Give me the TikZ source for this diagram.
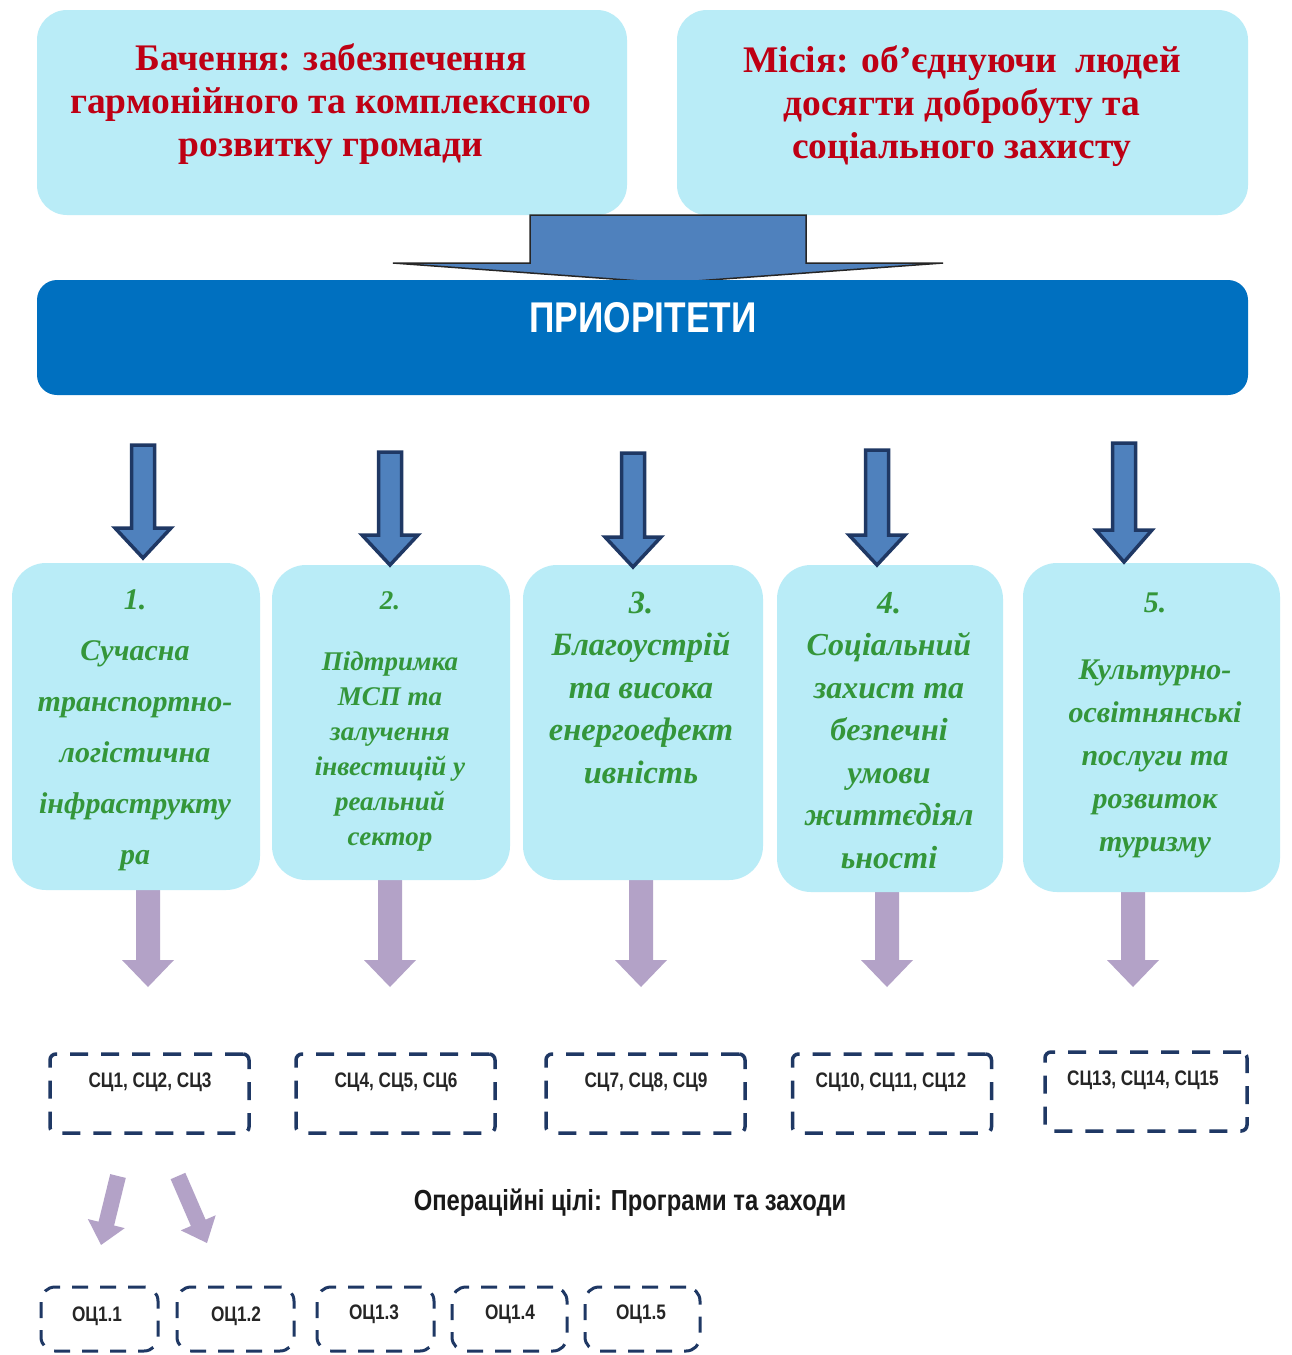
\documentclass[tikz,border=0pt]{standalone}
\usepackage{fontspec}
\setmainfont{Liberation Serif}
\newfontfamily\narrowsans[FakeStretch=0.82]{Liberation Sans}
\definecolor{boxcyan}{RGB}{185,236,247}
\definecolor{titlered}{RGB}{190,0,20}
\definecolor{barblue}{RGB}{0,112,192}
\definecolor{arrfill}{RGB}{79,129,189}
\definecolor{navyline}{RGB}{31,56,100}
\definecolor{lav}{RGB}{179,162,199}
\definecolor{tgreen}{RGB}{52,150,58}
\newcommand\mylines[1]{\begin{tabular}[t]{@{}c@{}}#1\end{tabular}}
\newcommand\blockarr[7]{\draw[#1] (#2-#6,#3) -- (#2+#6,#3) -- (#2+#6,#4) -- (#2+#7,#4) -- (#2,#5) -- (#2-#7,#4) -- (#2-#6,#4) -- cycle;}
\begin{document}
\begin{tikzpicture}[x=1pt,y=-1pt,
  topbox/.style={fill=boxcyan, rounded corners=30pt, draw=none, inner sep=0},
  toptext/.style={anchor=base, text=titlered, font=\bfseries\fontsize{37.5}{43}\selectfont, inner sep=0},
  barbox/.style={fill=barblue, rounded corners=20pt, inner sep=0},
  prbox/.style={fill=boxcyan, rounded corners=34pt, inner sep=0},
  prtext/.style={anchor=base, inner sep=0, text=tgreen, font=\bfseries\itshape\fontsize{30}{51}\selectfont},
  darr/.style={fill=arrfill, draw=navyline, line width=3.5pt, line join=miter},
  larr/.style={fill=lav, draw=none},
  bigarr/.style={fill=arrfill, draw=black!85, line width=1.5pt, line join=miter},
  scbox/.style={draw=navyline, line width=3.5pt, dash pattern=on 18pt off 13pt, rounded corners=6pt, minimum width=199pt, minimum height=79pt, inner sep=0},
  sctext/.style={font=\narrowsans\bfseries\fontsize{21}{24}\selectfont, text=black!85, inner sep=0},
  ocbox/.style={draw=navyline, line width=3pt, dash pattern=on 16pt off 12pt, rounded corners=14pt, minimum width=117pt, minimum height=64pt, inner sep=0},
]
\useasboundingbox (0,0) rectangle (1292,1355);
\fill[white] (0,0) rectangle (1292,1355);

% top boxes
\node[topbox, minimum width=590pt, minimum height=205pt] (vision) at (332,112.5) {};
\node[topbox, minimum width=571pt, minimum height=205pt] (mission) at (962.5,112.5) {};
\node[toptext] (visiontxt) at (331,70) {\mylines{Бачення: забезпечення\\гармонійного та комплексного\\розвитку громади}};
\node[toptext] (missiontxt) at (962,72) {\mylines{Місія: об’єднуючи\ \ людей\\досягти добробуту та\\соціального захисту}};

% big arrow into priorities bar
\draw[bigarr] (530,215) -- (806,215) -- (806,263) -- (943,263) -- (668,283) -- (393,263) -- (530,263) -- cycle;
\node[barbox, minimum width=1211pt, minimum height=115pt] (prio) at (642.5,337.5) {};
\node[text=white, font=\narrowsans\bfseries\fontsize{43}{46}\selectfont, inner sep=0] (priotxt) at (643,318) {ПРИОРІТЕТИ};

% lavender arrows (under boxes)
\blockarr{larr}{148}{880}{960}{987}{12}{26}
\blockarr{larr}{390}{870}{960}{987}{12}{26}
\blockarr{larr}{641}{870}{960}{987}{12}{26}
\blockarr{larr}{887}{880}{960}{987}{12}{26}
\blockarr{larr}{1133}{880}{960}{987}{12}{26}

% priority boxes
\node[prbox, minimum width=248pt, minimum height=327pt] (p1) at (136,726.5) {};
\node[prbox, minimum width=238pt, minimum height=315pt] (p2) at (391,722.5) {};
\node[prbox, minimum width=240pt, minimum height=315pt] (p3) at (643,722.5) {};
\node[prbox, minimum width=226pt, minimum height=327pt] (p4) at (890,728.5) {};
\node[prbox, minimum width=257pt, minimum height=329pt] (p5) at (1151.5,727.5) {};

% dark arrows
\blockarr{darr}{143}{445}{528}{558}{11.5}{28}
\blockarr{darr}{390}{452}{535}{565}{11.5}{28}
\blockarr{darr}{633}{453}{537}{567}{11.5}{28}
\blockarr{darr}{877}{450}{535}{565}{11.5}{28}
\blockarr{darr}{1124}{443}{530}{562}{11.5}{28}

% priority texts
\node[prtext] (p1txt) at (135,609) {\mylines{1.\\Сучасна\\транспортно-\\логістична\\інфраструкту\\ра}};
\node[prtext, font=\bfseries\itshape\fontsize{27}{35}\selectfont] (p2txt) at (390,609) {\mylines{2.\\[26pt]Підтримка\\МСП та\\залучення\\інвестицій у\\реальний\\сектор}};
\node[prtext, font=\bfseries\itshape\fontsize{32.5}{42.5}\selectfont] (p3txt) at (641,613) {\mylines{3.\\Благоустрій\\та висока\\енергоефект\\ивність}};
\node[prtext, font=\bfseries\itshape\fontsize{32}{42.5}\selectfont] (p4txt) at (889,613) {\mylines{4.\\Соціальний\\захист та\\безпечні\\умови\\життєдіял\\ьності}};
\node[prtext, font=\bfseries\itshape\fontsize{30}{43}\selectfont] (p5txt) at (1155,612) {\mylines{5.\\[24pt]Культурно-\\освітнянські\\послуги та\\розвиток\\туризму}};

% strategic goal boxes
\node[scbox] (sc1) at (149.5,1093.5) {};
\node[scbox] (sc2) at (395.5,1093.5) {};
\node[scbox] (sc3) at (645.5,1093.5) {};
\node[scbox] (sc4) at (892,1093.5) {};
\node[scbox, minimum width=202pt] (sc5) at (1146,1091.5) {};
\node[sctext] (sc1txt) at (150,1082) {СЦ1, СЦ2, СЦ3};
\node[sctext] (sc2txt) at (396,1082) {СЦ4, СЦ5, СЦ6};
\node[sctext] (sc3txt) at (646,1082) {СЦ7, СЦ8, СЦ9};
\node[sctext] (sc4txt) at (891,1082) {СЦ10, СЦ11, СЦ12};
\node[sctext] (sc5txt) at (1143,1080) {СЦ13, СЦ14, СЦ15};

% operational goals title
\node[font=\narrowsans\bfseries\fontsize{29}{32}\selectfont, text=black!90, inner sep=0] (optitle) at (630,1203) {Операційні цілі: Програми та заходи};

% diagonal lavender arrows
\begin{scope}[shift={(118,1176)}, rotate=-13.8]
\blockarr{larr}{0}{0}{49}{71}{8}{19}
\end{scope}
\begin{scope}[shift={(178,1176)}, rotate=23.4]
\blockarr{larr}{0}{0}{51}{73}{8}{19}
\end{scope}

% operational goal boxes
\node[ocbox] (oc1) at (99.5,1319) {};
\node[ocbox] (oc2) at (235.5,1319) {};
\node[ocbox] (oc3) at (375.5,1319) {};
\node[ocbox, minimum width=115pt] (oc4) at (509.5,1319) {};
\node[ocbox, minimum width=115pt] (oc5) at (642.5,1319) {};
\node[sctext] (oc1txt) at (97,1316) {ОЦ1.1};
\node[sctext] (oc2txt) at (236,1316) {ОЦ1.2};
\node[sctext] (oc3txt) at (374,1314) {ОЦ1.3};
\node[sctext] (oc4txt) at (510,1314) {ОЦ1.4};
\node[sctext] (oc5txt) at (641,1314) {ОЦ1.5};
\end{tikzpicture}
\end{document}
